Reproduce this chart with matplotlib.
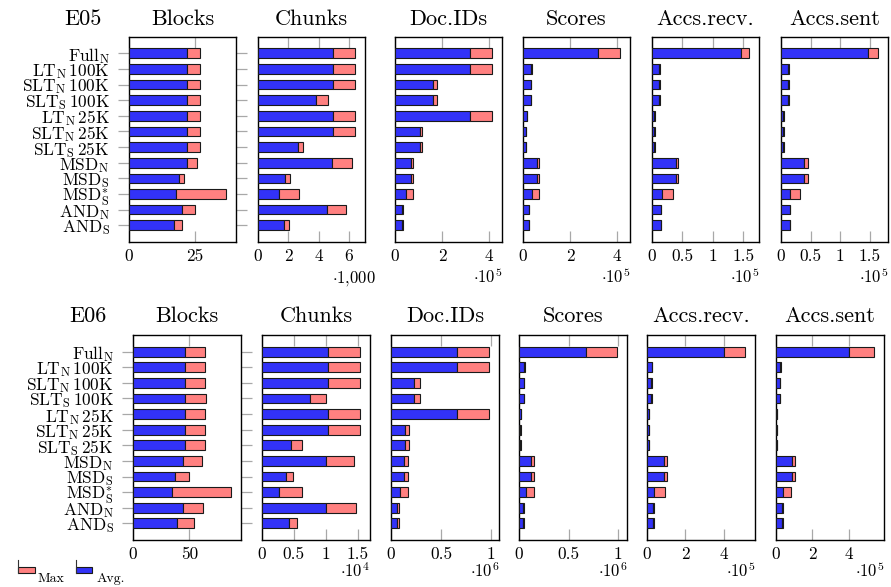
import matplotlib
matplotlib.use('Agg')
import matplotlib.pyplot as plt
from matplotlib.patches import Rectangle
from matplotlib.lines import Line2D
from matplotlib.ticker import FuncFormatter

plt.rcParams['font.family'] = 'cmr10'
plt.rcParams['mathtext.fontset'] = 'cm'
plt.rcParams['axes.formatter.use_mathtext'] = True

# configurations (top to bottom)
labels = [r'Full$_{\mathrm{N}}$', r'LT$_{\mathrm{N}}\,$100K', r'SLT$_{\mathrm{N}}\,$100K',
          r'SLT$_{\mathrm{S}}\,$100K', r'LT$_{\mathrm{N}}\,$25K', r'SLT$_{\mathrm{N}}\,$25K',
          r'SLT$_{\mathrm{S}}\,$25K', r'MSD$_{\mathrm{N}}$', r'MSD$_{\mathrm{S}}$',
          r'MSD$^{*}_{\mathrm{S}}$', r'AND$_{\mathrm{N}}$', r'AND$_{\mathrm{S}}$']
metrics = ['Blocks', 'Chunks', 'Doc.IDs', 'Scores', 'Accs.recv.', 'Accs.sent']

# ---- E05 (values in displayed units, see scale labels) ----
e05_blocks_avg = [22, 22, 22, 22, 22, 22, 22, 22, 19, 18, 20, 17]
e05_blocks_max = [27, 27, 27, 27, 27, 27, 27, 26, 21, 37, 25, 20]
e05_chunks_avg = [4.95, 4.95, 4.95, 3.86, 4.95, 4.95, 2.63, 4.86, 1.8, 1.42, 4.58, 1.75]
e05_chunks_max = [6.43, 6.43, 6.43, 4.65, 6.43, 6.43, 2.98, 6.2, 2.1, 2.7, 5.83, 2.04]
e05_docids_avg = [3.2, 3.2, 1.6, 1.6, 3.2, 1.06, 1.06, 0.66, 0.66, 0.45, 0.28, 0.28]
e05_docids_max = [4.14, 4.14, 1.77, 1.77, 4.14, 1.17, 1.17, 0.78, 0.78, 0.78, 0.35, 0.35]
e05_scores_avg = [3.19, 0.36, 0.33, 0.34, 0.15, 0.12, 0.12, 0.6, 0.6, 0.38, 0.24, 0.24]
e05_scores_max = [4.13, 0.38, 0.35, 0.36, 0.17, 0.14, 0.14, 0.7, 0.7, 0.69, 0.26, 0.26]
e05_recv_avg = [1.466, 0.12, 0.12, 0.12, 0.04, 0.04, 0.04, 0.39, 0.39, 0.16, 0.14, 0.14]
e05_recv_max = [1.6, 0.13, 0.13, 0.13, 0.045, 0.045, 0.045, 0.42, 0.42, 0.34, 0.15, 0.15]
e05_sent_avg = [1.47, 0.12, 0.12, 0.12, 0.04, 0.04, 0.04, 0.39, 0.39, 0.15, 0.15, 0.15]
e05_sent_max = [1.64, 0.13, 0.13, 0.13, 0.045, 0.045, 0.045, 0.45, 0.45, 0.32, 0.16, 0.16]
e05_ticks = [[0, 25], [0, 2, 4, 6], [0, 2, 4], [0, 2, 4], [0, 0.5, 1, 1.5], [0, 0.5, 1, 1.5]]
e05_scales = [None, r'$\cdot$1,000', r'$\cdot10^{5}$', r'$\cdot10^{5}$', r'$\cdot10^{5}$', r'$\cdot10^{5}$']

# ---- E06 ----
e06_blocks_avg = [46, 46, 46, 46, 46, 46, 46, 44, 37, 35, 44, 39]
e06_blocks_max = [64, 64, 64, 65, 64, 64, 64, 61, 50, 87, 62, 54]
e06_chunks_avg = [1.04, 1.04, 1.04, 0.75, 1.04, 1.04, 0.46, 1.0, 0.37, 0.27, 1.0, 0.42]
e06_chunks_max = [1.54, 1.54, 1.54, 1.0, 1.54, 1.54, 0.62, 1.45, 0.49, 0.63, 1.48, 0.55]
e06_docids_avg = [0.665, 0.665, 0.23, 0.23, 0.665, 0.137, 0.137, 0.13, 0.13, 0.087, 0.06, 0.06]
e06_docids_max = [0.983, 0.983, 0.29, 0.29, 0.983, 0.177, 0.177, 0.17, 0.17, 0.175, 0.077, 0.077]
e06_scores_avg = [0.675, 0.055, 0.048, 0.048, 0.018, 0.015, 0.015, 0.118, 0.118, 0.074, 0.045, 0.045]
e06_scores_max = [0.99, 0.058, 0.051, 0.051, 0.02, 0.017, 0.017, 0.155, 0.155, 0.155, 0.048, 0.048]
e06_recv_avg = [4.02, 0.24, 0.22, 0.22, 0.08, 0.08, 0.08, 0.87, 0.87, 0.38, 0.33, 0.33]
e06_recv_max = [5.11, 0.26, 0.24, 0.24, 0.09, 0.09, 0.09, 1.04, 1.04, 0.96, 0.36, 0.36]
e06_sent_avg = [4.02, 0.24, 0.22, 0.22, 0.07, 0.07, 0.07, 0.87, 0.87, 0.37, 0.35, 0.35]
e06_sent_max = [5.4, 0.26, 0.24, 0.24, 0.08, 0.08, 0.08, 1.07, 1.07, 0.82, 0.37, 0.37]
e06_ticks = [[0, 50], [0, 0.5, 1, 1.5], [0, 0.5, 1], [0, 0.5, 1], [0, 2, 4], [0, 2, 4]]
e06_scales = [None, r'$\cdot10^{4}$', r'$\cdot10^{6}$', r'$\cdot10^{6}$', r'$\cdot10^{5}$', r'$\cdot10^{5}$']

BLUE = '#3232f7'
RED = '#ff8080'
W, H = 891, 587

fig = plt.figure(figsize=(W / 100, H / 100), dpi=100)


def fx(px):
    return px / W


def fy(py):
    return 1 - py / H


def draw_row(name, name_x, avgs, maxs, ticks, scales, lefts, width, top, bottom,
             title_pad, scale_drop, scale_shift):
    ypos = list(range(len(labels)))
    for i in range(6):
        ax = fig.add_axes([fx(lefts[i]), fy(bottom), fx(width), (bottom - top) / H])
        avg, mx = avgs[i], maxs[i]
        ax.barh(ypos, avg, height=0.62, color=BLUE, edgecolor='#1a1a1a', linewidth=0.8, zorder=3)
        ax.barh(ypos, [m - a for a, m in zip(avg, mx)], left=avg, height=0.62,
                color=RED, edgecolor='#1a1a1a', linewidth=0.8, zorder=3)
        ax.set_ylim(len(labels) - 1 + 1.07, -1.07)
        ax.set_xlim(0, 1.1 * max(mx))
        ax.set_xticks(ticks[i])
        ax.xaxis.set_major_formatter(FuncFormatter(lambda v, p: '%g' % v))
        ax.tick_params(axis='x', direction='in', top=True, bottom=True, length=7.9,
                       width=0.9, color='#a8a8a8', labelsize=12.5, pad=5)
        if i == 0:
            ax.set_yticks(ypos)
            ax.set_yticklabels(labels)
            ax.tick_params(axis='y', direction='out', left=True, right=True, length=7.9,
                           width=0.9, color='#a8a8a8', labelsize=12.5, pad=6)
        else:
            ax.tick_params(axis='y', left=False, right=False, labelleft=False)
        for sp in ax.spines.values():
            sp.set_linewidth(1.0)
        ax.set_title(metrics[i], fontsize=16, pad=title_pad)
        if scales[i]:
            ax.text(1.0 + scale_shift[i] / width, -scale_drop / (bottom - top), scales[i],
                    transform=ax.transAxes, ha='right', va='baseline', fontsize=12)
    fig.text(fx(name_x), fy(top - title_pad / 0.72), name, ha='center', va='baseline', fontsize=16)


draw_row('E05', 83,
         [e05_blocks_avg, e05_chunks_avg, e05_docids_avg, e05_scores_avg, e05_recv_avg, e05_sent_avg],
         [e05_blocks_max, e05_chunks_max, e05_docids_max, e05_scores_max, e05_recv_max, e05_sent_max],
         e05_ticks, e05_scales, [129, 258, 395, 523, 652, 781], 107, 36.5, 242, 8.0, 41,
         [0, 11, 0, 0, 0, 0])
draw_row('E06', 88,
         [e06_blocks_avg, e06_chunks_avg, e06_docids_avg, e06_scores_avg, e06_recv_avg, e06_sent_avg],
         [e06_blocks_max, e06_chunks_max, e06_docids_max, e06_scores_max, e06_recv_max, e06_sent_max],
         e06_ticks, e06_scales, [133, 262, 391, 519, 647, 776], 108, 335, 540, 9.4, 37,
         [0, 0, 0, 0, 0, 0])

# legend (bottom left)
for x0, x1, col, txt, tx in [(18, 35, RED, 'Max', 38), (76, 92, BLUE, 'Avg.', 97)]:
    fig.add_artist(Rectangle((fx(x0), fy(573.3)), fx(x1 - x0), 6.6 / H, facecolor=col,
                             edgecolor='#1a1a1a', linewidth=0.8, transform=fig.transFigure))
    fig.add_artist(Line2D([fx(x0), fx(x0)], [fy(560), fy(573.3)], color='#333333',
                          linewidth=0.8, transform=fig.transFigure))
    fig.text(fx(tx), fy(582), txt, ha='left', va='baseline', fontsize=10)

fig.savefig('out.png', dpi=100)
